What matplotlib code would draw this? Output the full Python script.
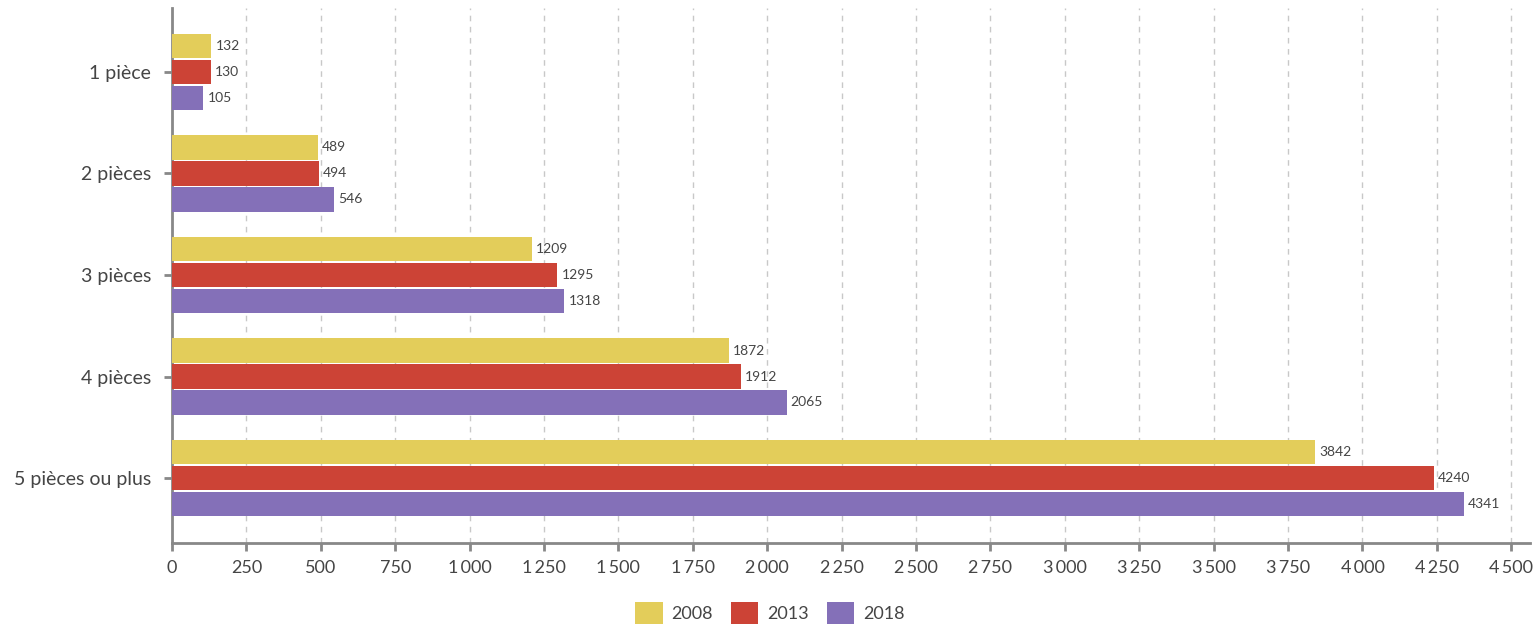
import matplotlib
matplotlib.use("Agg")
import matplotlib.pyplot as plt
import numpy as np
from matplotlib.ticker import FuncFormatter, MultipleLocator

plt.rcParams['font.family'] = ['Lato', 'DejaVu Sans']

categories = ["1 pièce", "2 pièces", "3 pièces", "4 pièces", "5 pièces ou plus"]
years = ["2008", "2013", "2018"]
v2008 = [132, 489, 1209, 1872, 3842]
v2013 = [130, 494, 1295, 1912, 4240]
v2018 = [105, 546, 1318, 2065, 4341]
colors = ["#E3CD5A", "#CC4336", "#8470B8"]

fig = plt.figure(figsize=(15.4, 6.28), dpi=100)
ax = fig.add_axes([172 / 1540, 1 - 543 / 628, (1530 - 172) / 1540, (543 - 8) / 628])

y = np.arange(len(categories))
step = 0.256
height = 0.238
txt = "#454545"

for i, (vals, col, yr) in enumerate(zip([v2008, v2013, v2018], colors, years)):
    pos = y + (i - 1) * step
    ax.barh(pos, vals, height=height, color=col, label=yr, zorder=3)
    for p, v in zip(pos, vals):
        ax.annotate(str(v), (v, p), xytext=(3, 0), textcoords="offset points",
                    va="center", ha="left", fontsize=10, color=txt, zorder=4)

ax.set_yticks(y)
ax.set_yticklabels(categories, fontsize=14, color=txt)
ax.set_ylim(4.64, -0.63)
ax.set_xlim(0, 4563)
ax.xaxis.set_major_locator(MultipleLocator(250))
ax.xaxis.set_major_formatter(FuncFormatter(lambda v, _: f"{int(v):,}".replace(",", "\u2009")))
ax.tick_params(axis="x", labelsize=13, colors="#888888", labelcolor=txt, length=6, width=2, pad=6)
ax.tick_params(axis="y", colors="#888888", labelcolor=txt, length=6, width=2, pad=9)

ax.grid(axis="x", linestyle=(0, (4, 4)), color="#c8c8c8", linewidth=1, zorder=0)
for s in ["top", "right"]:
    ax.spines[s].set_visible(False)
for s in ["left", "bottom"]:
    ax.spines[s].set_color("#888888")
    ax.spines[s].set_linewidth(2)

fig.legend(loc="lower center", bbox_to_anchor=(0.5, -0.02), ncol=3, frameon=False,
           fontsize=13, handlelength=1.5, handleheight=1.5, columnspacing=1.0,
           handletextpad=0.5, labelcolor=txt)

fig.savefig("out.png", dpi=100)
